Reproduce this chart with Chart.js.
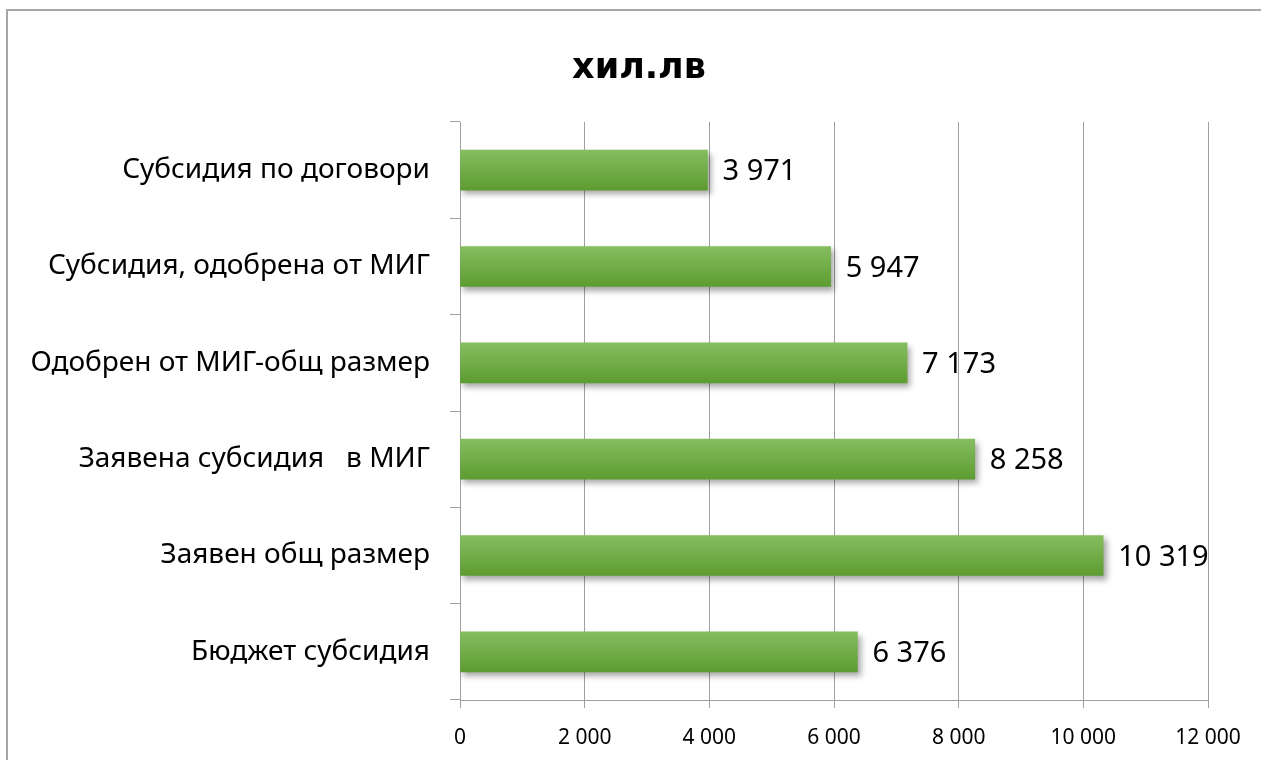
<!DOCTYPE html>
<html>
<head>
<meta charset="utf-8">
<script src="https://cdn.jsdelivr.net/npm/chart.js@4/dist/chart.umd.min.js"></script>
<style>
  html, body { margin: 0; padding: 0; background: #fff; }
  .frame { position: absolute; left: 6px; top: 9px; width: 1300px; height: 800px;
           border-left: 2px solid #a6a6a6; border-top: 2px solid #a6a6a6; }
  .wrap { position: absolute; left: 0; top: 0; width: 1261px; height: 760px; }
</style>
</head>
<body>
<div class="frame"></div>
<div class="wrap"><canvas id="c"></canvas></div>
<script>
const categories = ['Субсидия по договори', 'Субсидия, одобрена от МИГ', 'Одобрен от МИГ-общ размер', 'Заявена субсидия   в МИГ', 'Заявен общ размер', 'Бюджет субсидия'];
const values = [3971, 5947, 7173, 8258, 10319, 6376];
const tickValues = [0, 2000, 4000, 6000, 8000, 10000, 12000];

const fmt = v => String(v).replace(/\B(?=(\d{3})+(?!\d))/g, ' ');
const font = "'Noto Sans', sans-serif";
const barSize = 40;

// vertical gradient per bar, from the y scale position of its category
function barFill(c) {
  const y = c.chart.scales.y;
  if (!y || c.dataIndex === undefined) return '#70ad47';
  const mid = y.getPixelForValue(c.dataIndex);
  if (!isFinite(mid)) return '#70ad47';
  const g = c.chart.ctx.createLinearGradient(0, mid - barSize / 2, 0, mid + barSize / 2);
  g.addColorStop(0, '#86bd5f');
  g.addColorStop(1, '#5d9c31');
  return g;
}

// soft shadow under bars and value labels at bar ends
const barLook = {
  id: 'barLook',
  beforeDatasetsDraw(chart) {
    const ctx = chart.ctx;
    ctx.save();
    ctx.shadowColor = 'rgba(0,0,0,0.35)';
    ctx.shadowBlur = 6;
    ctx.shadowOffsetX = 3;
    ctx.shadowOffsetY = 4;
  },
  afterDatasetsDraw(chart) {
    const ctx = chart.ctx;
    ctx.restore();
    ctx.save();
    ctx.fillStyle = '#000';
    ctx.font = "29px " + font;
    ctx.textBaseline = 'middle';
    chart.getDatasetMeta(0).data.forEach((el, i) => {
      ctx.fillText(fmt(values[i]), el.x + 15, el.y + 2);
    });
    ctx.restore();
  }
};

new Chart(document.getElementById('c'), {
  type: 'bar',
  data: {
    labels: categories,
    datasets: [{
      data: values,
      backgroundColor: barFill,
      borderWidth: 0,
      barThickness: barSize
    }]
  },
  plugins: [barLook],
  options: {
    indexAxis: 'y',
    responsive: true,
    maintainAspectRatio: false,
    animation: false,
    layout: { padding: { left: 17, right: 0, top: 0, bottom: 0 } },
    plugins: {
      legend: { display: false },
      tooltip: { enabled: false },
      title: {
        display: true,
        text: 'хил.лв',
        color: '#000',
        font: { family: "'DejaVu Sans', sans-serif", size: 35, weight: 'bold' },
        padding: { top: 48, bottom: 32 }
      }
    },
    scales: {
      x: {
        min: 0, max: 12000,
        afterBuildTicks: s => { s.ticks = tickValues.map(v => ({ value: v })); },
        afterFit: s => { s.height = 60; },
        grid: { color: '#a0a0a0', lineWidth: 1, tickLength: 8 },
        border: { color: '#a0a0a0' },
        ticks: { color: '#000', font: { family: font, size: 21 }, padding: 17, callback: v => fmt(v) }
      },
      y: {
        offset: true,
        afterFit: s => { s.width = 443; },
        grid: { offset: true, drawOnChartArea: false, color: '#a0a0a0', tickLength: 10 },
        border: { color: '#a0a0a0' },
        ticks: { color: '#000', font: { family: font, size: 28 }, padding: 20 }
      },
      // empty right-hand strip, keeps the plot off the right edge
      yRight: {
        type: 'linear',
        axis: 'y',
        position: 'right',
        afterFit: s => { s.width = 53; },
        grid: { display: false },
        border: { display: false },
        ticks: { display: false }
      }
    }
  }
});
</script>
</body>
</html>
